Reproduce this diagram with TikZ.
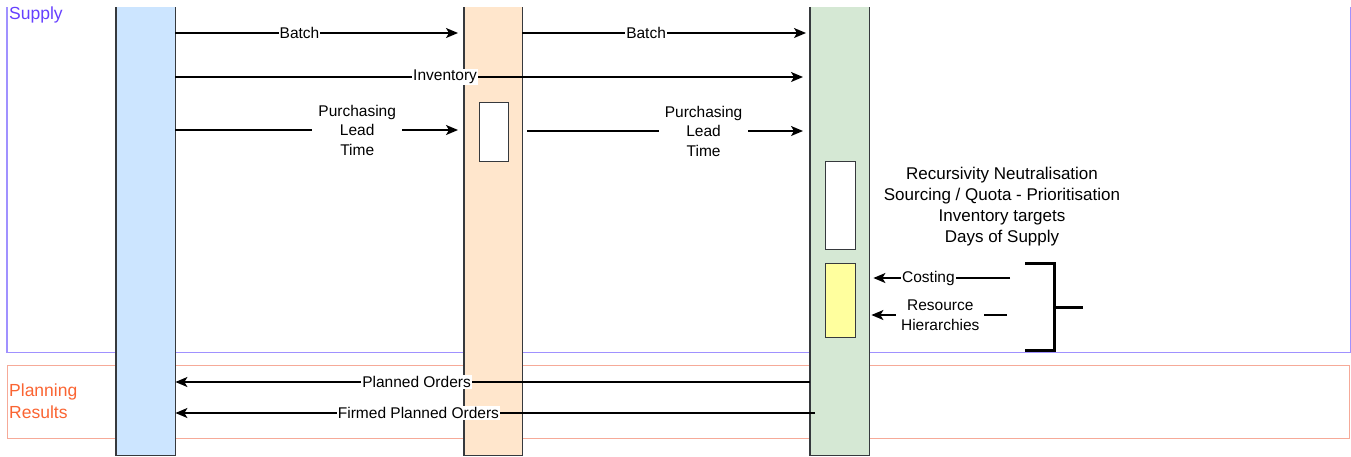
\documentclass[tikz,border=0pt]{standalone}
\usepackage{fontspec}
\setmainfont{Liberation Sans}
\usetikzlibrary{arrows.meta}
\definecolor{laneline}{HTML}{36393D}
\definecolor{laneblue}{HTML}{CCE5FF}
\definecolor{lanepeach}{HTML}{FFE6CC}
\definecolor{lanegreen}{HTML}{D5E8D4}
\definecolor{boxyellow}{HTML}{FFFF9E}
\definecolor{supplyline}{RGB}{160,145,255}
\definecolor{supplytext}{RGB}{102,64,255}
\definecolor{planline}{RGB}{246,170,152}
\definecolor{plantext}{RGB}{250,100,50}

\begin{document}
\begin{tikzpicture}[x=1pt,y=-1pt,
        lane/.style={anchor=north west,minimum height=448pt,inner sep=0pt},
        laneedge/.style={draw=laneline,line width=1.6pt},
        inbox/.style={draw=laneline,line width=1.3pt,anchor=north west,inner sep=0pt},
        msg/.style={line width=1.5pt,-{Stealth[length=12pt,width=10pt,inset=3pt]}},
        lbl/.style={fill=white,inner sep=1pt,align=center,font=\fontsize{15.5}{19.5}\selectfont},
        area/.style={anchor=north west,minimum width=1342pt,inner sep=0pt,line width=1.4pt}]
                \useasboundingbox (0,0) rectangle (1351,456);
                \node[area,minimum height=344pt] (supply) at (7,7) {};
                \draw[supplyline,line width=1.4pt] (supply.north west) -- (supply.south west) -- (supply.south east) -- (supply.north east);
                \node[area,draw=planline,minimum height=73pt] (plan) at (7,365) {};
                \node[anchor=west,inner sep=1pt,text=supplytext,font=\fontsize{17.5}{21}\selectfont] (supplytxt) at (8,15) {Supply};
                \node[anchor=west,inner sep=1pt,align=left,text=plantext,font=\fontsize{17.5}{22}\selectfont] (plantxt) at (8,401) {Planning\\Results};
                \node[lane,fill=laneblue,minimum width=59pt] (src) at (116,7) {};
                \node[lane,fill=lanepeach,minimum width=58pt] (mid) at (464,7) {};
                \node[lane,fill=lanegreen,minimum width=59pt] (dst) at (810,7) {};
                \foreach \l in {src,mid,dst}{
                    \draw[laneedge] (\l.north west) -- (\l.south west) -- (\l.south east) -- (\l.north east);
                }
                \node[inbox,fill=white,minimum width=29pt,minimum height=59pt] (midbox) at (479,102) {};
                \node[inbox,fill=white,minimum width=30pt,minimum height=88pt] (rulebox) at (825,161) {};
                \node[inbox,fill=boxyellow,minimum width=30pt,minimum height=74pt] (costbox) at (825,263) {};
                \draw[msg,shorten >=6pt] (src.east |- 0,33) -- (mid.west |- 0,33) node[lbl,pos=0.43]{Batch};
                \draw[msg,shorten >=4pt] (mid.east |- 0,33) -- (dst.west |- 0,33) node[lbl,pos=0.43]{Batch};
                \draw[msg,shorten >=7pt] (src.east |- 0,77) -- (dst.west |- 0,77) node[lbl,pos=0.425]{Inventory};
                \draw[msg,shorten >=6pt] (src.east |- 0,130) -- (mid.west |- 0,130) node[lbl,pos=0.63,inner xsep=6pt]{Purchasing\\Lead\\Time};
                \draw[msg,shorten <=5pt,shorten >=7pt] (mid.east |- 0,131) -- (dst.west |- 0,131) node[lbl,pos=0.63,inner xsep=6pt]{Purchasing\\Lead\\Time};
                \draw[msg] (dst.west |- 0,382) -- (src.east |- 0,382) node[lbl,pos=0.62]{Planned Orders};
                \draw[msg,shorten <=-5pt] (dst.west |- 0,413) -- (src.east |- 0,413) node[lbl,pos=0.617]{Firmed Planned Orders};
                \node[align=center,font=\fontsize{17}{21}\selectfont] (rules) at (1002,207) {Recursivity Neutralisation\\Sourcing / Quota - Prioritisation\\Inventory targets\\Days of Supply};
                \coordinate (costend) at (1010,278);
                \coordinate (resend) at (1007,315);
                \draw[msg,shorten >=4pt] (costend) -- (dst.east |- costend) node[lbl,pos=0.58]{Costing};
                \draw[msg,shorten >=2pt] (resend) -- (dst.east |- resend) node[lbl,pos=0.485,inner xsep=5pt]{Resource\\Hierarchies};
                \draw[line width=3pt] (1025,263) -- (1054,263) -- (1054,350) -- (1025,350) (1054,307) -- (1083,307);
\end{tikzpicture}
\end{document}
